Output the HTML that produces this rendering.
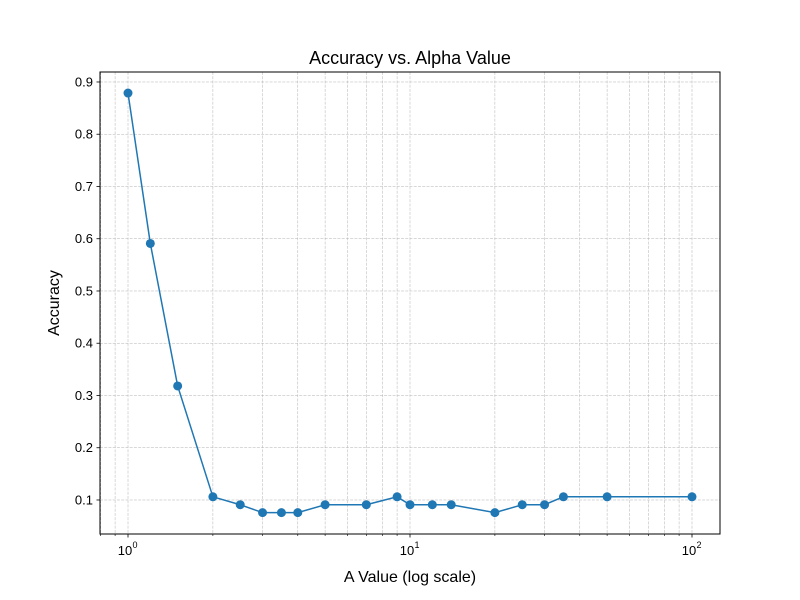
<!DOCTYPE html>
<html><head><meta charset="utf-8"><style>
body{margin:0;background:#fff;}
svg{display:block;font-family:"Liberation Sans","DejaVu Sans",sans-serif;}
</style></head><body>
<svg id="chart" width="800" height="600">
<rect width="800" height="600" fill="#fff"/>
<g id="grid"></g>
<g id="series"></g>
<rect x="100" y="72" width="620" height="462" fill="none" stroke="#000" stroke-width="1"/>
<g id="axes"></g>
<text x="410" y="64" text-anchor="middle" font-size="18">Accuracy vs. Alpha Value</text>
<text x="410" y="582" text-anchor="middle" font-size="16">A Value (log scale)</text>
<text x="59" y="303" text-anchor="middle" font-size="16" transform="rotate(-90 59 303)">Accuracy</text>
</svg>
<script>
const alphas=[1,1.2,1.5,2,2.5,3,3.5,4,5,7,9,10,12,14,20,25,30,35,50,100];
const accuracy=[0.8788,0.5909,0.3182,0.1061,0.0909,0.0758,0.0758,0.0758,0.0909,0.0909,0.1061,0.0909,0.0909,0.0909,0.0758,0.0909,0.0909,0.1061,0.1061,0.1061];
const yTicks=[0.1,0.2,0.3,0.4,0.5,0.6,0.7,0.8,0.9];
const xTickExps=[0,1,2];
const NS="http://www.w3.org/2000/svg";
const X0=100,X1=720,Y0=72,Y1=534;
const lxMin=-0.0993,lxMax=2.0993,yMin=0.0349,yMax=0.9191;
function xs(v){return X0+(Math.log10(v)-lxMin)/(lxMax-lxMin)*(X1-X0);}
function ys(v){return Y1-(v-yMin)/(yMax-yMin)*(Y1-Y0);}
function mk(tag,attrs,parent){const e=document.createElementNS(NS,tag);for(const k in attrs)e.setAttribute(k,attrs[k]);parent.appendChild(e);return e;}
const grid=document.getElementById('grid'),axes=document.getElementById('axes'),series=document.getElementById('series');
for(let d=-1;d<=2;d++){for(let m=1;m<=9;m++){const v=m*Math.pow(10,d);const px=xs(v);if(px<X0||px>X1)continue;
const l=mk('line',{x1:px,x2:px,y1:Y0,y2:Y1,stroke:'#b0b0b0','stroke-width':0.5,'stroke-dasharray':'2.96,1.28'},grid);


const t=mk('line',{x1:px,x2:px,y1:Y1,y2:Y1+(m===1?3.5:2),stroke:'#000','stroke-width':m===1?0.8:0.6},axes);

}}
xTickExps.forEach(e=>{const px=xs(Math.pow(10,e));
const t=mk('text',{x:px-3,y:Y1+21,'text-anchor':'middle','font-size':13},axes);t.textContent='10';


const s=mk('text',{x:px+7,y:Y1+14,'text-anchor':'middle','font-size':9},axes);s.textContent=String(e);

});
yTicks.forEach(v=>{const py=ys(v);
const l=mk('line',{x1:X0,x2:X1,y1:py,y2:py,stroke:'#b0b0b0','stroke-width':0.5,'stroke-dasharray':'2.96,1.28'},grid);


const t=mk('line',{x1:X0-3.5,x2:X0,y1:py,y2:py,stroke:'#000','stroke-width':0.8},axes);


const tx=mk('text',{x:X0-7,y:py+4.5,'text-anchor':'end','font-size':13},axes);tx.textContent=v.toFixed(1);

});
const pts=alphas.map((a,i)=>xs(a).toFixed(2)+','+ys(accuracy[i]).toFixed(2)).join(' ');
const pl=mk('polyline',{points:pts,fill:'none',stroke:'#1f77b4','stroke-width':1.5},series);


alphas.forEach((a,i)=>{const c=mk('circle',{cx:xs(a),cy:ys(accuracy[i]),r:4.5,fill:'#1f77b4'},series);

});
</script>
</body></html>
